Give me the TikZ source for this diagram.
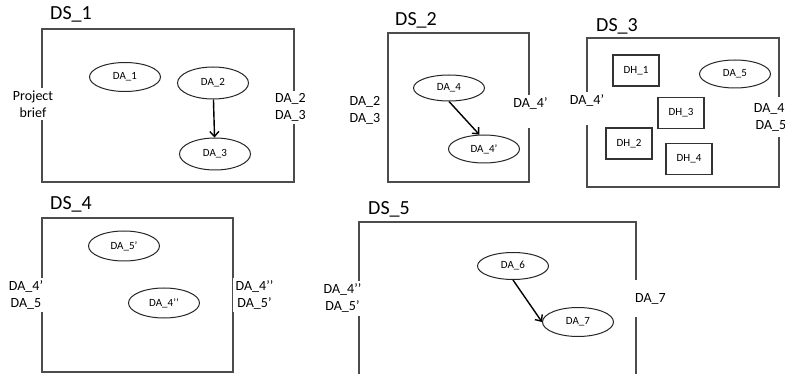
\documentclass[tikz,border=0pt]{standalone}
\usepackage{fontspec}
\setmainfont{Carlito}
\usetikzlibrary{shapes.geometric,arrows.meta}
\tikzset{
  dsbox/.style={draw=black!70, line width=1.6pt, inner sep=0pt},
  dstitle/.style={font=\fontsize{20}{24}\selectfont, anchor=base west, inner sep=0pt},
  io/.style={fill=white, font=\fontsize{14}{17}\selectfont, align=center, inner sep=3pt},
  act/.style={ellipse, draw=black!85, line width=1pt, minimum width=71pt, minimum height=29pt, inner sep=0pt, font=\fontsize{11}{13}\selectfont},
  hub/.style={draw=black!80, line width=1.5pt, minimum width=46pt, minimum height=31pt, inner sep=0pt, font=\fontsize{11}{13}\selectfont},
  flow/.style={-{Straight Barb[length=5pt,width=9pt]}, line width=1.4pt}
}
\begin{document}
\begin{tikzpicture}[x=1pt, y=-1pt]
  \useasboundingbox[fill=white] (0,0) rectangle (785,374);

  \node[dsbox, minimum width=252pt, minimum height=153pt] (ds1) at (168,105.5) {};
  \node[dstitle] (t1) at (50,20) {DS\_1};
  \node[io] (in1) at (33,104) {Project\\brief};
  \node[io] (out1) at (290.5,107.5) {DA\_2\\DA\_3};
  \node[act] (da1) at (125,77) {DA\_1};
  \node[act, minimum height=32pt] (da2) at (213,83) {DA\_2};
  \node[act, minimum height=32pt] (da3) at (215,154) {DA\_3};
  \draw[flow] (da2) -- (da3);

  \node[dsbox, minimum width=141pt, minimum height=149pt] (ds2) at (458.5,107.5) {};
  \node[dstitle] (t2) at (395,26) {DS\_2};
  \node[io] (in2) at (365,110.5) {DA\_2\\DA\_3};
  \node[io] (out2) at (530.5,111.5) {DA\_4’\\~};
  \node[act, minimum height=26pt] (da4) at (449,88) {DA\_4};
  \node[act, minimum height=28pt] (da4p) at (484,149) {DA\_4’};
  \draw[flow] (da4.south) -- (da4p.108);

  \node[dsbox, minimum width=192pt, minimum height=149pt] (ds3) at (683,112.5) {};
  \node[dstitle] (t3) at (596,32) {DS\_3};
  \node[io] (in3) at (587,108.5) {DA\_4’\\~};
  \node[io, inner ysep=6pt] (out3) at (771,117) {DA\_4’\\DA\_5};
  \node[hub] (dh1) at (636,70.5) {DH\_1};
  \node[hub] (dh3) at (681,113) {DH\_3};
  \node[hub] (dh2) at (629,143.5) {DH\_2};
  \node[hub] (dh4) at (689,159) {DH\_4};
  \node[act, minimum height=28pt] (da5) at (735,74) {DA\_5};

  \node[dsbox, minimum width=191pt, minimum height=154pt] (ds4) at (137.5,295) {};
  \node[dstitle] (t4) at (50,210) {DS\_4};
  \node[io] (in4) at (26,295) {DA\_4’\\DA\_5};
  \node[io] (out4) at (254.5,295) {DA\_4’’\\DA\_5’};
  \node[act, minimum height=30pt] (da5p) at (124,246) {DA\_5’};
  \node[act, minimum height=30pt] (da4pp) at (164,303) {DA\_4’’};

  \node[dsbox, minimum width=277pt, minimum height=162pt] (ds5) at (497.5,303) {};
  \node[dstitle] (t5) at (368,215) {DS\_5};
  \node[io] (in5) at (342.5,298.5) {DA\_4’’\\DA\_5’};
  \node[io, minimum height=37pt] (out5) at (650.5,299) {DA\_7};
  \node[act, minimum height=27pt] (da6) at (513,266) {DA\_6};
  \node[act] (da7) at (578,322) {DA\_7};
  \draw[flow] (da6.south) -- (da7.west);
\end{tikzpicture}
\end{document}
